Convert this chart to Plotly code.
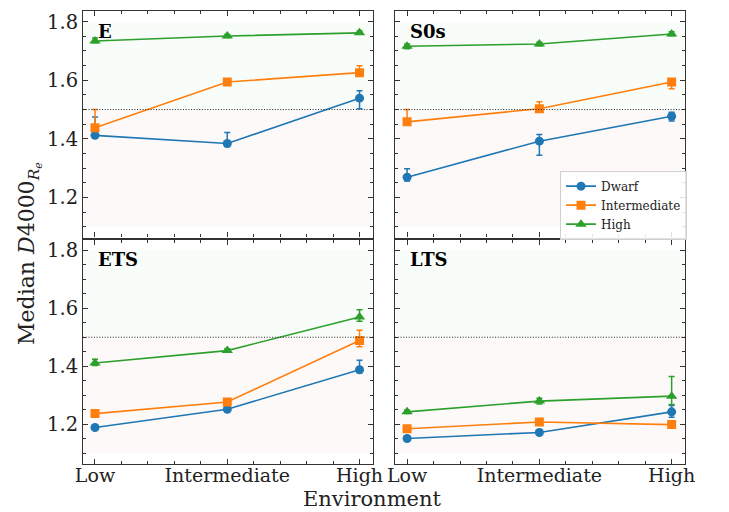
import plotly.graph_objects as go

env_labels = ["Low", "Intermediate", "High"]
env_x = [0, 1, 2]
panels = ["E", "S0s", "ETS", "LTS"]
classes = ["Dwarf", "Intermediate", "High"]

# E
E_dwarf = [1.412, 1.384, 1.539]
E_dwarf_up = [0.063, 0.038, 0.025]
E_dwarf_dn = [0.010, 0.010, 0.036]
E_inter = [1.438, 1.594, 1.626]
E_inter_up = [0.062, 0.005, 0.024]
E_inter_dn = [0.010, 0.005, 0.010]
E_high = [1.734, 1.751, 1.762]
E_high_up = [0.010, 0.005, 0.006]
E_high_dn = [0.006, 0.005, 0.005]
# S0s
S_dwarf = [1.269, 1.392, 1.477]
S_dwarf_up = [0.029, 0.023, 0.014]
S_dwarf_dn = [0.013, 0.048, 0.016]
S_inter = [1.458, 1.503, 1.594]
S_inter_up = [0.042, 0.024, 0.008]
S_inter_dn = [0.008, 0.012, 0.023]
S_high = [1.716, 1.724, 1.758]
S_high_up = [0.008, 0.006, 0.008]
S_high_dn = [0.008, 0.006, 0.006]
# ETS
ETS_dwarf = [1.189, 1.252, 1.388]
ETS_dwarf_up = [0.005, 0.006, 0.033]
ETS_dwarf_dn = [0.005, 0.006, 0.010]
ETS_inter = [1.237, 1.277, 1.489]
ETS_inter_up = [0.005, 0.006, 0.035]
ETS_inter_dn = [0.005, 0.006, 0.022]
ETS_high = [1.411, 1.454, 1.570]
ETS_high_up = [0.013, 0.006, 0.025]
ETS_high_dn = [0.008, 0.005, 0.015]
# LTS
LTS_dwarf = [1.151, 1.172, 1.243]
LTS_dwarf_up = [0.004, 0.005, 0.022]
LTS_dwarf_dn = [0.004, 0.005, 0.019]
LTS_inter = [1.185, 1.208, 1.199]
LTS_inter_up = [0.004, 0.005, 0.006]
LTS_inter_dn = [0.004, 0.005, 0.006]
LTS_high = [1.243, 1.280, 1.297]
LTS_high_up = [0.006, 0.010, 0.068]
LTS_high_dn = [0.006, 0.010, 0.029]

panel_data = [
    [(E_dwarf, E_dwarf_up, E_dwarf_dn), (E_inter, E_inter_up, E_inter_dn), (E_high, E_high_up, E_high_dn)],
    [(S_dwarf, S_dwarf_up, S_dwarf_dn), (S_inter, S_inter_up, S_inter_dn), (S_high, S_high_up, S_high_dn)],
    [(ETS_dwarf, ETS_dwarf_up, ETS_dwarf_dn), (ETS_inter, ETS_inter_up, ETS_inter_dn), (ETS_high, ETS_high_up, ETS_high_dn)],
    [(LTS_dwarf, LTS_dwarf_up, LTS_dwarf_dn), (LTS_inter, LTS_inter_up, LTS_inter_dn), (LTS_high, LTS_high_up, LTS_high_dn)],
]

colors = ["#1f77b4", "#ff7f0e", "#2ca02c"]
symbols = ["circle", "square", "triangle-up"]
msizes = [9, 9, 10]

threshold = 1.5
band_lo, band_hi = 1.1, 1.8
yrange = [1.063, 1.8366]
xrange_ = [-0.09, 2.1]

W, H = 729, 512
xdom = [[77 / W, 374 / W], [397 / W, 694 / W]]
ydom = [[1 - 237 / H, 1 - 10 / H], [1 - 464 / H, 1 - 239 / H]]

FONT = "DejaVu Serif"
fig = go.Figure()

layout = dict(
    width=W, height=H, margin=dict(l=0, r=0, t=0, b=0),
    paper_bgcolor="white", plot_bgcolor="white",
    font=dict(family=FONT, color="black"),
    showlegend=True,
    legend=dict(x=566 / W, y=1 - 170 / H, xanchor="left", yanchor="top",
                bgcolor="rgba(255,255,255,0.85)", bordercolor="#d0d0d0", borderwidth=1,
                font=dict(family=FONT, size=12, color="#222222"), tracegroupgap=0,
                itemwidth=30),
)
shapes = []
annotations = []

for p in range(4):
    r, c = divmod(p, 2)
    idx = p + 1
    xa = "x" if idx == 1 else f"x{idx}"
    ya = "y" if idx == 1 else f"y{idx}"
    xkey = "xaxis" if idx == 1 else f"xaxis{idx}"
    ykey = "yaxis" if idx == 1 else f"yaxis{idx}"
    layout[xkey] = dict(
        domain=xdom[c], anchor=ya, range=xrange_, tickmode="array",
        tickvals=env_x, ticktext=env_labels,
        showticklabels=(r == 1), ticklabelstandoff=-6,
        ticks="inside", ticklen=5, tickwidth=1, tickcolor="#333333",
        mirror="allticks", showline=True, linecolor="#333333", linewidth=1.2,
        showgrid=False, zeroline=False,
        tickfont=dict(family=FONT, size=19, color="#222222"),
        minor=dict(ticks="inside", ticklen=3, tickcolor="#333333", dtick=0.2, tick0=0, showgrid=False),
    )
    layout[ykey] = dict(
        domain=ydom[r], anchor=xa, range=yrange, tickmode="array",
        tickvals=[1.2, 1.4, 1.6, 1.8], ticktext=["1.2", "1.4", "1.6", "1.8"],
        showticklabels=(c == 0),
        ticks="inside", ticklen=5, tickwidth=1, tickcolor="#333333",
        mirror="allticks", showline=True, linecolor="#333333", linewidth=1.2,
        showgrid=False, zeroline=False,
        tickfont=dict(family=FONT, size=19.5, color="#222222"),
        minor=dict(ticks="inside", ticklen=3, tickcolor="#333333", dtick=0.05, tick0=1.0, showgrid=False),
    )
    # bands
    shapes.append(dict(type="rect", xref=f"{xa} domain", yref=ya, x0=0, x1=1, y0=threshold, y1=band_hi,
                       fillcolor="rgba(0,150,0,0.025)", line_width=0, layer="below"))
    shapes.append(dict(type="rect", xref=f"{xa} domain", yref=ya, x0=0, x1=1, y0=band_lo, y1=threshold,
                       fillcolor="rgba(200,0,0,0.022)", line_width=0, layer="below"))
    shapes.append(dict(type="line", xref=f"{xa} domain", yref=ya, x0=0, x1=1, y0=threshold, y1=threshold,
                       line=dict(color="#222222", width=1, dash="1px,1.7px"), layer="above"))
    annotations.append(dict(text=f"<b>{panels[p]}</b>", xref=f"{xa} domain", yref=f"{ya} domain",
                            x=13 / 297, y=1 - 8 / 227, xanchor="left", yanchor="top", showarrow=False,
                            font=dict(family=FONT, size=18, color="black")))
    for k in range(3):
        vals, up, dn = panel_data[p][k]
        fig.add_trace(go.Scatter(
            x=env_x, y=vals, xaxis=xa, yaxis=ya, mode="lines+markers",
            name=classes[k], legendgroup=classes[k], showlegend=(p == 1),
            line=dict(color=colors[k], width=1.6),
            marker=dict(symbol=symbols[k], size=msizes[k], color=colors[k]),
            error_y=dict(type="data", symmetric=False, array=up, arrayminus=dn,
                         color=colors[k], thickness=1.5, width=3),
        ))

annotations.append(dict(text="Environment", xref="paper", yref="paper", x=374 / W, y=0,
                        xanchor="center", yanchor="bottom", showarrow=False, borderpad=0,
                        font=dict(family=FONT, size=21, color="#222222")))
annotations.append(dict(text="Median <i>D</i>4000<sub><i>R<sub>e</sub></i></sub>", xref="paper", yref="paper",
                        x=22 / W, y=1 - 253 / H, xanchor="center", yanchor="middle", textangle=-90,
                        showarrow=False, font=dict(family=FONT, size=22, color="#222222")))

layout["shapes"] = shapes
layout["annotations"] = annotations
fig.update_layout(**layout)
fig.write_html("out.html")
